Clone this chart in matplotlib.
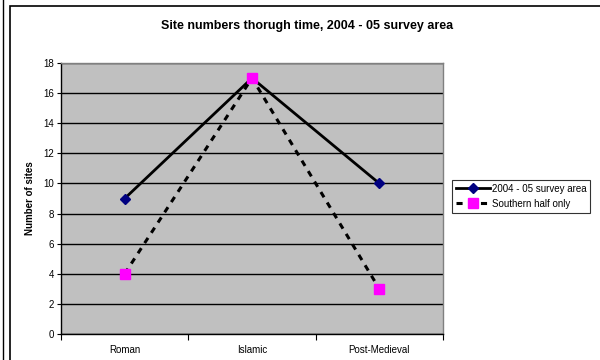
import matplotlib
matplotlib.use("Agg")
import matplotlib.pyplot as plt
from matplotlib.lines import Line2D
from matplotlib.patches import Rectangle

plt.rcParams['font.family'] = ['Liberation Sans', 'DejaVu Sans']

categories = ["Roman", "Islamic", "Post-Medieval"]
survey_area = [9, 17, 10]
southern_half = [4, 17, 3]
y_ticks = [0, 2, 4, 6, 8, 10, 12, 14, 16, 18]

fig = plt.figure(figsize=(6, 3.6), dpi=100)
ax = fig.add_axes([61/600, 1 - 334/360, (443 - 61)/600, (334 - 63)/360])
ax.set_facecolor("#C0C0C0")

x = list(range(len(categories)))
ax.plot(x, survey_area, color="black", linewidth=2, marker="D", markersize=5.5,
        markerfacecolor="#000080", markeredgecolor="#000080",
        label="2004 - 05 survey area", zorder=3)
ax.plot(x, southern_half, color="black", linewidth=2.2, linestyle=(0, (2, 2)),
        marker="s", markersize=7, markerfacecolor="#FF00FF",
        markeredgecolor="#FF00FF", label="Southern half only", zorder=3)

ax.set_xlim(-0.5, len(categories) - 0.5)
ax.set_ylim(0, 18)
ax.set_yticks(y_ticks)
ax.yaxis.grid(True, color="black", linewidth=1)
ax.set_axisbelow(True)

ax.set_xticks(x)
ax.set_xticklabels(categories, fontsize=7)
ax.tick_params(axis="x", which="major", length=0, pad=8)
ax.set_xticks([i - 0.5 for i in range(len(categories) + 1)], minor=True)
ax.tick_params(axis="x", which="minor", length=4, width=0.8, color="black")
ax.tick_params(axis="y", labelsize=7, length=3, width=0.8, pad=2)

for side in ["top", "right"]:
    ax.spines[side].set_color("#808080")
    ax.spines[side].set_linewidth(1)
for side in ["left", "bottom"]:
    ax.spines[side].set_color("black")
    ax.spines[side].set_linewidth(1)

ax.set_ylabel("Number of sites", fontsize=7, fontweight="bold", labelpad=6)
fig.text(307/600, 1 - 26/360,
         "Site numbers thorugh time, 2004 - 05 survey area",
         ha="center", va="center", fontsize=9, fontweight="bold")

leg = ax.legend(loc="upper left", bbox_to_anchor=(452/600, 1 - 180/360),
                bbox_transform=fig.transFigure, fontsize=7, frameon=True,
                fancybox=False, edgecolor="black", borderpad=0.4,
                handlelength=3.5, handletextpad=0.2, labelspacing=0.5,
                borderaxespad=0)
leg.get_frame().set_linewidth(0.8)

# chart frame
fig.add_artist(Rectangle((10/600, -0.05), 1.0, 1 - 6/360 + 0.05,
                         transform=fig.transFigure, fill=False,
                         edgecolor="black", linewidth=1.2))
fig.add_artist(Line2D([2.5/600, 2.5/600], [0, 1], transform=fig.transFigure,
                      color="black", linewidth=1))

fig.savefig("out.png", dpi=100)
